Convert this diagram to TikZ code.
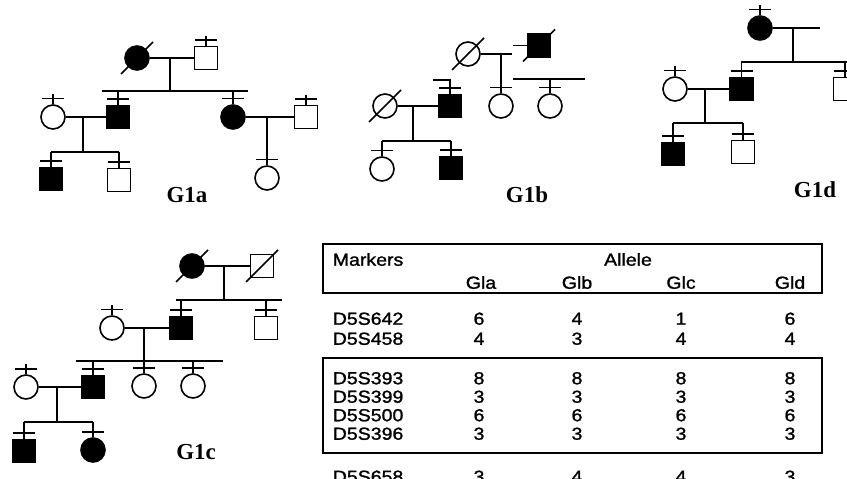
\documentclass[tikz,border=0pt]{standalone}
\usepackage{fontspec}
\setmainfont{Liberation Serif}
\newfontfamily\tabfont[FakeStretch=1.12,FakeBold=1.3]{Liberation Sans}
\usepackage{tikz}

\newcommand{\tick}[1]{\draw ([shift={(-11,-5.5)}]#1.north) -- ([shift={(11,-5.5)}]#1.north);}
\newcommand{\founder}[1]{\draw ([shift={(0,-10)}]#1.north) -- (#1.north); \tick{#1}}
\newcommand{\dead}[1]{\draw ([shift={(-16,16)}]#1.center) -- ([shift={(16,-16)}]#1.center);}

\begin{document}
\begin{tikzpicture}[x=1bp,y=-1bp,line width=1.6bp,
    male/.style={draw,rectangle,minimum size=23bp,inner sep=0pt},
    female/.style={draw,circle,minimum size=24bp,inner sep=0pt},
    aff/.style={fill=black},
    glabel/.style={font=\fontsize{23}{23}\selectfont\bfseries,inner sep=0pt},
    cell/.style={font=\tabfont\fontsize{17.5}{18}\selectfont,inner sep=0pt,text height=12.5bp,text depth=0pt}]
  \useasboundingbox (0,0) rectangle (847,479);
  \clip (0,0) rectangle (847,479);

  % G1a
  \node[female,aff] (a1) at (137,58) {};
  \node[male] (a2) at (206,58) {};
  \node[female] (a3) at (53,117) {};
  \node[male,aff] (a4) at (118,117) {};
  \node[female,aff] (a7) at (233,117) {};
  \node[male] (a8) at (306,117) {};
  \node[male,aff] (a5) at (51,179) {};
  \node[male] (a6) at (119,180) {};
  \node[female] (a9) at (267,178) {};
  \node[glabel] (la) at (187,195) {G1a};
  \coordinate (a1d) at (170,58);
  \coordinate (a1l) at (102,91);
  \coordinate (a1r) at (248,91);
  \coordinate (a2d) at (83,117);
  \coordinate (a2l) at (51,152);
  \coordinate (a2r) at (119,152);
  \coordinate (a3d) at (267,117);
  \dead{a1}
  \draw (a1) -- (a2);
  \draw (a1d) -- (a1d |- a1l);
  \draw (a1l) -- (a1r);
  \draw (a4.north |- a1l) -- (a4);
  \draw (a7.north |- a1l) -- (a7);
  \draw (a3) -- (a4);
  \draw (a2d) -- (a2d |- a2l);
  \draw (a2l) -- (a2r);
  \draw (a5.north |- a2l) -- (a5);
  \draw (a6.north |- a2l) -- (a6);
  \draw (a7) -- (a8);
  \draw (a3d) -- (a9);
  \founder{a2} \founder{a3} \founder{a8}
  \tick{a4} \tick{a7} \tick{a5} \tick{a6} \tick{a9}

  % G1b
  \node[female] (b1) at (468,54) {};
  \node[male,aff] (b2) at (539,45.5) {};
  \node[female] (b3) at (501,106) {};
  \node[female] (b4) at (550,106) {};
  \node[female] (b7) at (385,106) {};
  \node[male,aff] (b6) at (450,106) {};
  \node[female] (b8) at (382,169) {};
  \node[male,aff] (b9) at (451,168) {};
  \node[glabel] (lb) at (527,195) {G1b};
  \coordinate (b1m) at (512,54);
  \coordinate (b2m) at (513,45.5);
  \coordinate (b1d) at (501,54);
  \coordinate (b1l) at (513,79);
  \coordinate (b1r) at (585,79);
  \coordinate (b6s) at (433,80);
  \coordinate (b2d) at (413,106);
  \coordinate (b2l) at (382,141);
  \coordinate (b2r) at (451,141);
  \dead{b1} \dead{b2} \dead{b7}
  \draw (b1) -- (b1m);
  \draw (b2m) -- (b2);
  \draw (b1d) -- (b3);
  \draw (b1l) -- (b1r);
  \draw (b4.north |- b1l) -- (b4);
  \draw (b6s) -- (b6s -| b6.north) -- (b6);
  \draw (b7) -- (b6);
  \draw (b2d) -- (b2d |- b2l);
  \draw (b2l) -- (b2r);
  \draw (b8.north |- b2l) -- (b8);
  \draw (b9.north |- b2l) -- (b9);
  \tick{b3} \tick{b4} \tick{b6} \tick{b8} \tick{b9}

  % G1d
  \node[female,aff] (d1) at (760,28) {};
  \node[male] (d2) at (845,89) {};
  \node[female] (d3) at (675,89) {};
  \node[male,aff] (d4) at (741.5,89) {};
  \node[male,aff] (d5) at (673,154) {};
  \node[male] (d6) at (743,152) {};
  \node[glabel] (ld) at (815,190) {G1d};
  \coordinate (d1m) at (820,28);
  \coordinate (d1d) at (793,28);
  \coordinate (d1l) at (741,62);
  \coordinate (d1r) at (850,62);
  \coordinate (d2d) at (705,89);
  \coordinate (d2l) at (673,123);
  \coordinate (d2r) at (743,123);
  \draw (d1) -- (d1m);
  \draw (d1d) -- (d1d |- d1l);
  \draw (d1l) -- (d1r);
  \draw (d2.north |- d1l) -- (d2);
  \draw (d4.north |- d1l) -- (d4);
  \draw (d3) -- (d4);
  \draw (d2d) -- (d2d |- d2l);
  \draw (d2l) -- (d2r);
  \draw (d5.north |- d2l) -- (d5);
  \draw (d6.north |- d2l) -- (d6);
  \founder{d1} \founder{d3}
  \tick{d2} \tick{d4} \tick{d5} \tick{d6}

  % G1c
  \node[female,aff] (c1) at (192,266) {};
  \node[male] (c2) at (262,266) {};
  \node[female] (c5) at (112,328) {};
  \node[male,aff] (c3) at (181,328) {};
  \node[male] (c4) at (266,328) {};
  \node[female] (c9) at (26,387) {};
  \node[male,aff] (c6) at (93,387) {};
  \node[female] (c7) at (144,386) {};
  \node[female] (c8) at (193,386) {};
  \node[male,aff] (c10) at (24,451) {};
  \node[female,aff] (c11) at (93,450) {};
  \node[glabel] (lc) at (196,452) {G1c};
  \coordinate (c1d) at (224,266);
  \coordinate (c1l) at (176,300);
  \coordinate (c1r) at (282,300);
  \coordinate (c2d) at (144,328);
  \coordinate (c2l) at (76,361);
  \coordinate (c2r) at (223,361);
  \coordinate (c3d) at (57,387);
  \coordinate (c3l) at (24,422);
  \coordinate (c3r) at (93,422);
  \dead{c1} \dead{c2}
  \draw (c1) -- (c2);
  \draw (c1d) -- (c1d |- c1l);
  \draw (c1l) -- (c1r);
  \draw (c3.north |- c1l) -- (c3);
  \draw (c4.north |- c1l) -- (c4);
  \draw (c5) -- (c3);
  \draw (c2d) -- (c2d |- c2l);
  \draw (c2l) -- (c2r);
  \draw (c6.north |- c2l) -- (c6);
  \draw (c7.north |- c2l) -- (c7);
  \draw (c8.north |- c2l) -- (c8);
  \draw (c9) -- (c6);
  \draw (c3d) -- (c3d |- c3l);
  \draw (c3l) -- (c3r);
  \draw (c10.north |- c3l) -- (c10);
  \draw (c11.north |- c3l) -- (c11);
  \founder{c5} \founder{c9}
  \tick{c3} \tick{c4} \tick{c6} \tick{c7} \tick{c8} \tick{c10} \tick{c11}

  % table
  \draw[line width=1.2bp] (323,244) rectangle (822,293);
  \draw[line width=1.2bp] (323,358) rectangle (822,453);
  \node[cell,anchor=west] (hm) at (332,259.5) {Markers};
  \node[cell] (ha) at (628,259.5) {Allele};
  \node[cell] (hga) at (481,282.5) {Gla};
  \node[cell] (hgb) at (577,282.5) {Glb};
  \node[cell] (hgc) at (681,282.5) {Glc};
  \node[cell] (hgd) at (790,282.5) {Gld};
  \foreach \m/\p/\q/\r/\s/\y [count=\i] in {D5S642/6/4/1/6/318.5, D5S458/4/3/4/4/338.5,
      D5S393/8/8/8/8/378, D5S399/3/3/3/3/396.5, D5S500/6/6/6/6/415, D5S396/3/3/3/3/433.5,
      D5S658/3/4/4/3/476.5} {
    \node[cell,anchor=west] (r\i) at (332,\y) {\m};
    \node[cell] (r\i-a) at (479,\y) {\p};
    \node[cell] (r\i-b) at (577,\y) {\q};
    \node[cell] (r\i-c) at (681,\y) {\r};
    \node[cell] (r\i-d) at (790,\y) {\s};
  }
\end{tikzpicture}
\end{document}
